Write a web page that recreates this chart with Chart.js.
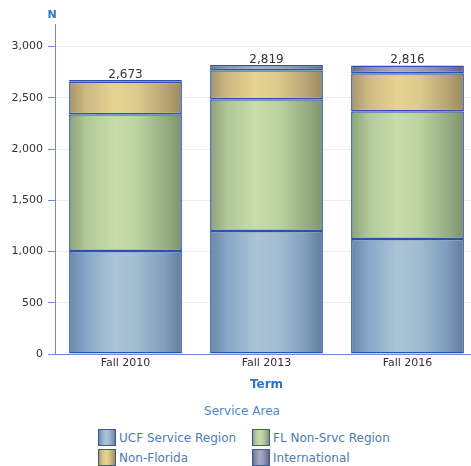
<!DOCTYPE html>
<html>
<head>
<meta charset="utf-8">
<title>Service Area by Term</title>
<script src="https://cdn.jsdelivr.net/npm/chart.js@4"></script>
<style>
  html, body { margin: 0; padding: 0; background: #fff; overflow: hidden; }
  #wrap { width: 484px; height: 466px; }
  #legend { font-family: "DejaVu Sans", sans-serif; font-size: 12px; color: #4a7bbd; }
  .legend-title { text-align: center; margin-top: 8px; color: #4f88c8; line-height: 14px; }
  .legend-items { display: grid; grid-template-columns: 154px 154px; padding-left: 98px; margin-top: 11px; row-gap: 3px; }
  .item { display: flex; align-items: center; height: 17px; white-space: nowrap; }
  .swatch { box-sizing: border-box; width: 18px; height: 17px; border: 1px solid #3d5a94; margin-right: 3px; }
</style>
</head>
<body>
<div id="wrap">
  <canvas id="chart" width="484" height="396"></canvas>
  <div id="legend">
    <div class="legend-title">Service Area</div>
    <div class="legend-items" id="legendItems"></div>
  </div>
</div>
<script>
const terms = ['Fall 2010', 'Fall 2013', 'Fall 2016'];
const ucfRegion = [1005, 1199, 1121];
const flNonSrvc = [1334, 1286, 1247];
const nonFlorida = [318, 283, 371];
const international = [16, 51, 77];
const yTicks = [0, 500, 1000, 1500, 2000, 2500, 3000];

// left-to-right shading of each bar, like a cylinder
const stopPos = [0, 0.15, 0.4, 0.6, 0.85, 1];
const blueStops = ['#6a87a5', '#88a6c8', '#aac4d4', '#a2bdd0', '#7f9dbd', '#627c98'];
const greenStops = ['#8aa276', '#b0c898', '#c8dcaa', '#bdd3a0', '#98ae82', '#7d926c'];
const tanStops = ['#a6956a', '#cdb983', '#e6d390', '#dccb8b', '#b8a574', '#9a895d'];
const purpleStops = ['#676b93', '#8b8cad', '#a8a9c2', '#9d9eb9', '#7d7fa2', '#5e6088'];

const axisBlue = '#6d8fd3';

function barFill(stops) {
  return (c) => {
    const chart = c.chart;
    const x = chart.scales.x;
    if (!chart.chartArea || !x) return stops[2];
    const center = x.getPixelForValue(c.dataIndex);
    const half = (x.width / terms.length) * 0.8 / 2;
    const g = chart.ctx.createLinearGradient(center - half, 0, center + half, 0);
    stops.forEach((col, i) => g.addColorStop(stopPos[i], col));
    return g;
  };
}

const series = [
  { label: 'UCF Service Region', data: ucfRegion, stops: blueStops },
  { label: 'FL Non-Srvc Region', data: flNonSrvc, stops: greenStops },
  { label: 'Non-Florida', data: nonFlorida, stops: tanStops },
  { label: 'International', data: international, stops: purpleStops }
];

const totalsPlugin = {
  id: 'totals',
  afterDatasetsDraw(chart) {
    const ctx = chart.ctx;
    const top = chart.getDatasetMeta(chart.data.datasets.length - 1);
    ctx.save();
    ctx.font = '12px "DejaVu Sans"';
    ctx.fillStyle = '#333';
    ctx.textAlign = 'center';
    ctx.textBaseline = 'alphabetic';
    terms.forEach((t, i) => {
      const total = chart.data.datasets.reduce((s, d) => s + d.data[i], 0);
      const bar = top.data[i];
      ctx.fillText(total.toLocaleString('en-US'), bar.x, bar.y - 2.5);
    });
    ctx.restore();
  }
};

const yTitlePlugin = {
  id: 'yTitle',
  afterDraw(chart) {
    const ctx = chart.ctx;
    ctx.save();
    ctx.font = 'bold 11px "DejaVu Sans"';
    ctx.fillStyle = '#2f74c0';
    ctx.textAlign = 'center';
    ctx.textBaseline = 'middle';
    ctx.fillText('N', chart.chartArea.left - 3, 15);
    ctx.restore();
  }
};

const ctx = document.getElementById('chart').getContext('2d');
const chart = new Chart(ctx, {
  type: 'bar',
  data: {
    labels: terms,
    datasets: series.map(s => ({
      label: s.label,
      data: s.data,
      backgroundColor: barFill(s.stops),
      borderColor: '#2a52ac',
      borderWidth: 1.5,
      borderSkipped: false,
      categoryPercentage: 0.8,
      barPercentage: 1.0
    }))
  },
  options: {
    responsive: false,
    animation: false,
    layout: { padding: { top: 24, right: 6, left: 0, bottom: 0 } },
    plugins: {
      legend: { display: false },
      tooltip: { enabled: false }
    },
    scales: {
      x: {
        stacked: true,
        grid: { display: false, drawTicks: false },
        border: { color: axisBlue },
        ticks: { color: '#333', font: { family: 'DejaVu Sans', size: 11 }, padding: 3 },
        title: {
          display: true,
          text: 'Term',
          color: '#2f74c0',
          font: { family: 'DejaVu Sans', size: 12, weight: 'bold' },
          padding: { top: 4, bottom: 4 }
        },
        afterFit: s => { s.height = 42; }
      },
      y: {
        stacked: true,
        min: 0,
        max: 3220,
        grid: { color: '#eeeeee', tickColor: axisBlue, tickLength: 7 },
        border: { color: axisBlue },
        ticks: { color: '#333', font: { family: 'DejaVu Sans', size: 11 }, padding: 5 },
        afterBuildTicks: s => { s.ticks = yTicks.map(v => ({ value: v })); },
        afterFit: s => { s.width = 55; }
      }
    }
  },
  plugins: [totalsPlugin, yTitlePlugin]
});

// html legend, two columns like the original
const legendItems = document.getElementById('legendItems');
series.forEach(s => {
  const item = document.createElement('div');
  item.className = 'item';
  const sw = document.createElement('span');
  sw.className = 'swatch';
  sw.style.background = 'linear-gradient(to right, ' +
    s.stops.map((c, i) => c + ' ' + (stopPos[i] * 100) + '%').join(', ') + ')';
  const txt = document.createElement('span');
  txt.textContent = s.label;
  item.appendChild(sw);
  item.appendChild(txt);
  legendItems.appendChild(item);
});
</script>
</body>
</html>
